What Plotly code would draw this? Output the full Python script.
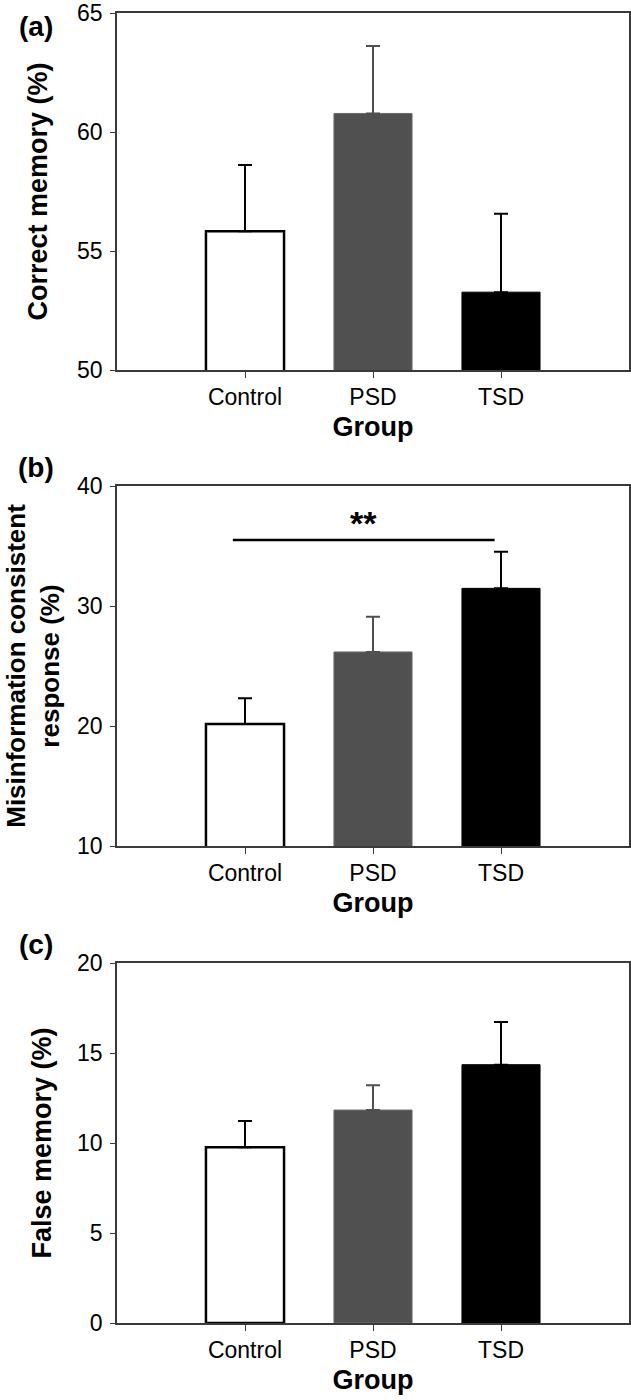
import plotly.graph_objects as go

# groups on the x axis
groups = ["Control", "PSD", "TSD"]

# (a) correct memory (%)
correct_mean = [55.83, 60.78, 53.27]
correct_err = [2.78, 2.83, 3.29]

# (b) misinformation consistent response (%)
misinfo_mean = [20.17, 26.17, 31.47]
misinfo_err = [2.14, 2.94, 3.06]

# (c) false memory (%)
false_mean = [9.76, 11.83, 14.35]
false_err = [1.46, 1.38, 2.37]

# significance bracket in panel (b): from / to (category index), height, label
sig_from, sig_to, sig_y, sig_label, sig_label_y = -0.095, 1.95, 35.5, "**", 36.9

bar_fill = ["white", "#505050", "black"]
bar_line = ["black", "#6a6a6a", "black"]
err_color = ["black", "#505050", "black"]

FONT = "Liberation Sans, Arial, sans-serif"
W, H = 631, 1400
L, R = 117, 2

# pixel rows of each plot area (top, bottom)
rows = [(13, 370), (486, 846), (963, 1323)]
tag_rows = [27, 467, 944]

panels = [
    dict(mean=correct_mean, err=correct_err, yticks=[50, 55, 60, 65],
         ytitle="Correct memory (%)", tag="(a)", tsize=27, standoff=22),
    dict(mean=misinfo_mean, err=misinfo_err, yticks=[10, 20, 30, 40],
         ytitle="Misinformation consistent<br>response (%)", tag="(b)", tsize=26, standoff=10),
    dict(mean=false_mean, err=false_err, yticks=[0, 5, 10, 15, 20],
         ytitle="False memory (%)", tag="(c)", tsize=27, standoff=18),
]

fig = go.Figure()
layout = {}
annotations = []

for p, panel in enumerate(panels):
    n = "" if p == 0 else str(p + 1)
    xa, ya = "x" + n, "y" + n
    for i, g in enumerate(groups):
        fig.add_trace(go.Bar(
            x=[g], y=[panel["mean"][i]],
            xaxis=xa, yaxis=ya, width=0.61,
            marker=dict(color=bar_fill[i], line=dict(color=bar_line[i], width=2.5 if i == 0 else 1)),
            error_y=dict(type="data", symmetric=False, array=[panel["err"][i]],
                         arrayminus=[0], color=err_color[i], thickness=2, width=7),
            showlegend=False,
        ))
    top, bot = rows[p]
    dom = [1 - bot / H, 1 - top / H]
    yt = panel["yticks"]
    layout["xaxis" + n] = dict(
        domain=[0, 1], anchor=ya, type="category", categoryorder="array",
        categoryarray=groups, range=[-1, 3],
        showline=True, mirror=True, linecolor="#3a3a3a", linewidth=1.5,
        ticks="outside", ticklen=6, tickwidth=1, tickcolor="#3a3a3a",
        tickfont=dict(size=23, color="black", family=FONT),
        title=dict(text="<b>Group</b>", font=dict(size=27, color="black", family=FONT), standoff=8),
        showgrid=False, zeroline=False, automargin=False,
    )
    layout["yaxis" + n] = dict(
        domain=dom, anchor=xa, range=[yt[0], yt[-1]], tickvals=yt,
        showline=True, mirror=True, linecolor="#3a3a3a", linewidth=1.5,
        ticks="outside", ticklen=5, tickwidth=1, tickcolor="#3a3a3a", ticklabelstandoff=3,
        ticklabeloverflow="allow",
        tickfont=dict(size=23, color="black", family=FONT),
        title=dict(text="<b>" + panel["ytitle"] + "</b>",
                   font=dict(size=panel["tsize"], color="black", family=FONT),
                   standoff=panel["standoff"]),
        showgrid=False, zeroline=False, automargin=False,
    )
    annotations.append(dict(
        text="<b>" + panel["tag"] + "</b>", xref="paper", yref="paper",
        x=(36 - L) / (W - L - R), y=1 - tag_rows[p] / H,
        xanchor="center", yanchor="middle",
        showarrow=False, font=dict(size=28, color="black", family=FONT),
    ))

# significance bracket (panel b)
fig.add_shape(type="line", xref="x2", yref="y2", x0=sig_from, x1=sig_to, y0=sig_y, y1=sig_y,
              line=dict(color="black", width=2.5))
annotations.append(dict(text="<b>" + sig_label + "</b>", xref="x2", yref="y2",
                        x=(sig_from + sig_to) / 2, y=sig_label_y, showarrow=False,
                        font=dict(size=34, color="black", family=FONT)))

fig.update_layout(
    width=W, height=H,
    margin=dict(l=L, r=R, t=0, b=0),
    paper_bgcolor="white", plot_bgcolor="white",
    annotations=annotations,
    font=dict(family=FONT, color="black"),
    **layout,
)

# drop the default page margin so the figure sits at the window's corner
fig.write_html("out.html", config={"displayModeBar": False},
               post_script="document.body.style.margin='0';")
